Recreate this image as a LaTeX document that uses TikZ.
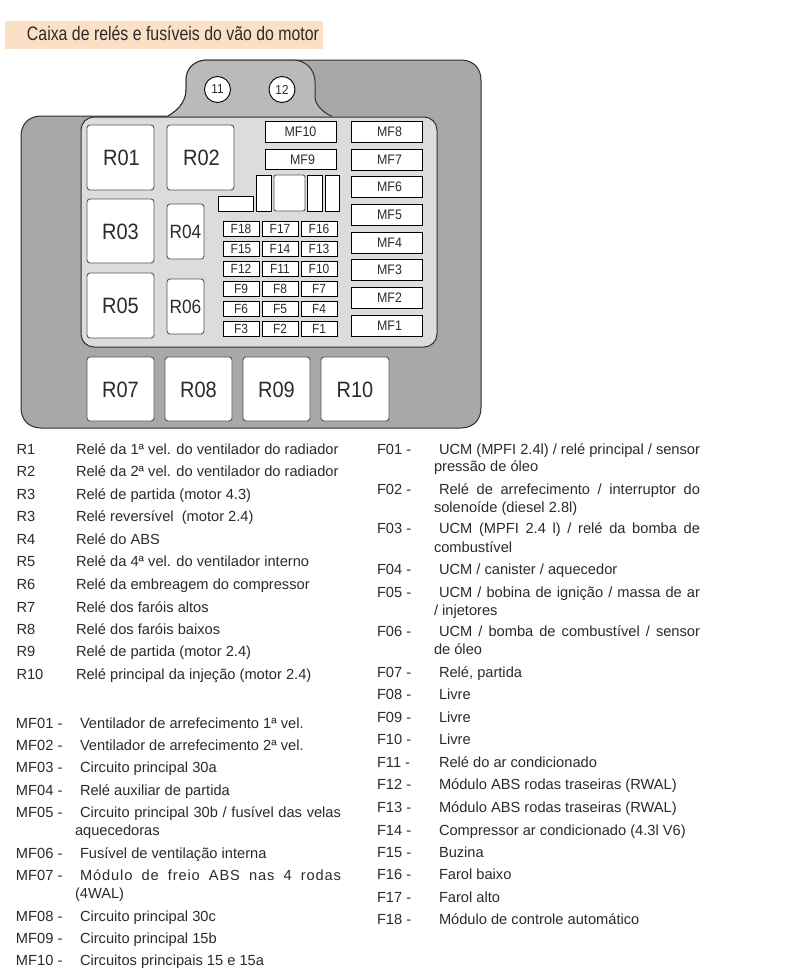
\documentclass[tikz,border=0pt]{standalone}
\usepackage{fontspec}
\usepackage{graphicx}
\setmainfont{Liberation Sans}
\newfontfamily\boxfont[FakeStretch=0.9]{Liberation Sans}
\definecolor{inkc}{HTML}{2B2B2B}
\definecolor{titlebg}{HTML}{FBE0C6}
\definecolor{bodyc}{HTML}{A8A8A8}
\definecolor{tabc}{HTML}{BABABA}
\definecolor{panelc}{HTML}{DCDCDC}
\definecolor{edgec}{HTML}{555555}
\definecolor{shellc}{HTML}{303030}
\tikzset{
  partbase/.style={inner sep=0pt,outer sep=0pt,text=inkc,align=center},
  relaybig/.style={partbase,draw=edgec,fill=white,line width=.9pt,rounded corners=3pt,font=\boxfont\fontsize{22.2}{22}\selectfont,text height=16pt,text depth=0pt},
  relaysmall/.style={partbase,draw=edgec,fill=white,line width=.9pt,rounded corners=3pt,font=\boxfont\fontsize{19.2}{20}\selectfont,text height=13.8pt,text depth=0pt},
  maxifuse/.style={partbase,draw=black,fill=white,line width=.9pt,font=\boxfont\fontsize{13.8}{14}\selectfont,text height=9.9pt,text depth=0pt},
  minifuse/.style={partbase,draw=black,fill=white,line width=.9pt,font=\boxfont\fontsize{13.3}{14}\selectfont,text height=9.5pt,text depth=0pt},
  blankpart/.style={partbase,draw=black,fill=white,line width=.9pt},
  blankround/.style={partbase,draw=edgec,fill=white,line width=.9pt,rounded corners=2pt},
  pincircle/.style={circle,draw=black,fill=white,line width=.9pt,inner sep=0pt,minimum size=26pt,text=inkc,font=\boxfont\fontsize{13}{13}\selectfont},
  rowtext/.style={anchor=base west,inner sep=0pt,outer sep=0pt,text=inkc,font=\fontsize{14.65}{16}\selectfont},
}
\newcommand{\partbox}[7]{%
  \pgfmathsetmacro{\cxv}{(#3+#5)/2}\pgfmathsetmacro{\cyv}{(#4+#6)/2}%
  \pgfmathsetmacro{\wv}{#5-#3}\pgfmathsetmacro{\hv}{#6-#4}%
  \node[#1,name=#2,minimum width=\wv pt,minimum height=\hv pt] at (\cxv,\cyv) {#7};}
\newcommand{\rowt}[4]{\node[rowtext,name=#1] at (#2,#3) {#4};}
\newcommand{\rowj}[5]{\node[rowtext,name=#1] at (#2,#3) {\makebox[#4pt][s]{#5}};}
\begin{document}
\begin{tikzpicture}[x=1pt,y=-1pt]
\useasboundingbox (0,0) rectangle (797,980);
\fill[white] (0,0) rectangle (797,980);
% title
\node[name=titlebar,fill=titlebg,inner sep=0pt,minimum width=318pt,minimum height=28pt] at (164,35) {};
\node[rowtext,name=titletext,font=\fontsize{19.5}{20}\selectfont] at (27,40) {\resizebox{292pt}{\height}{Caixa de relés e fusíveis do vão do motor}};
% body silhouette
\draw[fill=bodyc,draw=shellc,line width=1pt]
  (41,116) -- (168,116) .. controls (182,108) and (186,98) .. (186,90)
  -- (186,80) .. controls (186,68) and (195,60) .. (207,60) -- (461,60)
  .. controls (473,60) and (481,68) .. (481,80) -- (481,408)
  .. controls (481,420) and (473,428) .. (461,428) -- (41,428)
  .. controls (29,428) and (21,420) .. (21,408) -- (21,136)
  .. controls (21,124) and (29,116) .. (41,116) -- cycle;
% tab
\fill[tabc] (168,116.5) .. controls (182,108) and (186,98) .. (186,90)
  -- (186,80) .. controls (186,68) and (195,60) .. (207,60) -- (293,60)
  .. controls (306,60) and (315,70) .. (315,82) -- (315,98)
  .. controls (316,106) and (324,113) .. (332,116.5) -- cycle;
\draw[shellc,line width=1pt] (168,116) .. controls (182,108) and (186,98) .. (186,90)
  -- (186,80) .. controls (186,68) and (195,60) .. (207,60) -- (293,60)
  .. controls (306,60) and (315,70) .. (315,82) -- (315,98)
  .. controls (316,106) and (324,113) .. (332,116.5);
% panel
\draw[fill=panelc,draw=shellc,line width=1pt,rounded corners=13pt] (81,117) rectangle (437,347);
% pin circles
\node[pincircle,name=pin11] at (217.5,89.5) {11};
\node[pincircle,name=pin12] at (282,89.5) {12};
% relays
\partbox{relaybig}{r01}{87}{125}{154}{190}{\kern2pt R01}
\partbox{relaybig}{r02}{167}{125}{234}{190}{\kern2pt R02}
\partbox{relaybig}{r03}{87}{199}{154}{263}{R03}
\partbox{relaysmall}{r04}{167}{204}{204}{259}{R04}
\partbox{relaybig}{r05}{87}{273}{154}{338}{R05}
\partbox{relaysmall}{r06}{167}{279}{204}{334}{R06}
\partbox{relaybig}{r07}{87}{357}{154}{421}{R07}
\partbox{relaybig}{r08}{165}{357}{232}{421}{R08}
\partbox{relaybig}{r09}{243}{357}{310}{421}{R09}
\partbox{relaybig}{r10}{321}{357}{389}{421}{R10}
% maxi fuses
\partbox{maxifuse}{mf10}{265}{121}{336}{142.5}{MF10}
\partbox{maxifuse}{mf9}{265}{149}{336}{169.5}{\kern4pt MF9}
\partbox{maxifuse}{mf8}{351}{121}{422}{142.5}{\kern6pt MF8}
\partbox{maxifuse}{mf7}{351}{149}{422}{170}{\kern6pt MF7}
\partbox{maxifuse}{mf6}{351}{176}{422}{197}{\kern6pt MF6}
\partbox{maxifuse}{mf5}{351}{204}{422}{225}{\kern6pt MF5}
\partbox{maxifuse}{mf4}{351}{232}{422}{253}{\kern6pt MF4}
\partbox{maxifuse}{mf3}{351}{259}{422}{280}{\kern6pt MF3}
\partbox{maxifuse}{mf2}{351}{287}{422}{308}{\kern6pt MF2}
\partbox{maxifuse}{mf1}{351}{315}{422}{336}{\kern6pt MF1}
% small blank parts
\partbox{blankpart}{bl1}{218}{196}{253}{211}{}
\partbox{blankpart}{bl2}{256}{175}{271}{211}{}
\partbox{blankround}{bl3}{274}{175}{305}{211}{}
\partbox{blankpart}{bl4}{307}{175}{322}{211}{}
\partbox{blankpart}{bl5}{325}{175}{339}{211}{}
% mini fuses
\partbox{minifuse}{f18}{223}{221}{259}{236}{F18}
\partbox{minifuse}{f17}{262}{221}{298}{236}{F17}
\partbox{minifuse}{f16}{301}{221}{337}{236}{F16}
\partbox{minifuse}{f15}{223}{241}{259}{256}{F15}
\partbox{minifuse}{f14}{262}{241}{298}{256}{F14}
\partbox{minifuse}{f13}{301}{241}{337}{256}{F13}
\partbox{minifuse}{f12}{223}{261}{259}{276}{F12}
\partbox{minifuse}{f11}{262}{261}{298}{276}{F11}
\partbox{minifuse}{f10}{301}{261}{337}{276}{F10}
\partbox{minifuse}{f9}{223}{281}{259}{296}{F9}
\partbox{minifuse}{f8}{262}{281}{298}{296}{F8}
\partbox{minifuse}{f7}{301}{281}{337}{296}{F7}
\partbox{minifuse}{f6}{223}{301}{259}{316}{F6}
\partbox{minifuse}{f5}{262}{301}{298}{316}{F5}
\partbox{minifuse}{f4}{301}{301}{337}{316}{F4}
\partbox{minifuse}{f3}{223}{321}{259}{336}{F3}
\partbox{minifuse}{f2}{262}{321}{298}{336}{F2}
\partbox{minifuse}{f1}{301}{321}{337}{336}{F1}
% relay list
\rowt{la1}{16.5}{454}{R1}\rowt{ld1}{76}{454}{Relé da 1ª vel. do ventilador do radiador}
\rowt{la2}{16.5}{476}{R2}\rowt{ld2}{76}{476}{Relé da 2ª vel. do ventilador do radiador}
\rowt{la3}{16.5}{499}{R3}\rowt{ld3}{76}{499}{Relé de partida (motor 4.3)}
\rowt{la4}{16.5}{521}{R3}\rowt{ld4}{76}{521}{Relé reversível~ (motor 2.4)}
\rowt{la5}{16.5}{544}{R4}\rowt{ld5}{76}{544}{Relé do ABS}
\rowt{la6}{16.5}{566}{R5}\rowt{ld6}{76}{566}{Relé da 4ª vel. do ventilador interno}
\rowt{la7}{16.5}{589}{R6}\rowt{ld7}{76}{589}{Relé da embreagem do compressor}
\rowt{la8}{16.5}{612}{R7}\rowt{ld8}{76}{612}{Relé dos faróis altos}
\rowt{la9}{16.5}{634}{R8}\rowt{ld9}{76}{634}{Relé dos faróis baixos}
\rowt{la10}{16.5}{656}{R9}\rowt{ld10}{76}{656}{Relé de partida (motor 2.4)}
\rowt{la11}{16.5}{679}{R10}\rowt{ld11}{76}{679}{Relé principal da injeção (motor 2.4)}
% maxi fuse list
\rowt{ma1}{16}{728}{MF01 -}\rowt{md1}{80}{728}{Ventilador de arrefecimento 1ª vel.}
\rowt{ma2}{16}{750}{MF02 -}\rowt{md2}{80}{750}{Ventilador de arrefecimento 2ª vel.}
\rowt{ma3}{16}{772}{MF03 -}\rowt{md3}{80}{772}{Circuito principal 30a}
\rowt{ma4}{16}{795}{MF04 -}\rowt{md4}{80}{795}{Relé auxiliar de partida}
\rowt{ma5}{16}{817}{MF05 -}\rowj{md5}{80}{817}{261}{Circuito principal 30b / fusível das velas}
\rowt{mc5}{75}{835}{aquecedoras}
\rowt{ma6}{16}{858}{MF06 -}\rowt{md6}{80}{858}{Fusível de ventilação interna}
\rowt{ma7}{16}{880}{MF07 -}\rowj{md7}{80}{880}{261}{\addfontfeature{LetterSpace=6}Módulo de freio ABS nas 4 rodas}
\rowt{mc7}{75}{898}{(4WAL)}
\rowt{ma8}{16}{921}{MF08 -}\rowt{md8}{80}{921}{Circuito principal 30c}
\rowt{ma9}{16}{943}{MF09 -}\rowt{md9}{80}{943}{Circuito principal 15b}
\rowt{ma10}{16}{965}{MF10 -}\rowt{md10}{80}{965}{Circuitos principais 15 e 15a}
% fuse list
\rowt{fa1}{377}{454}{F01 -}\rowj{fd1}{439}{454}{261}{UCM (MPFI 2.4l) / relé principal / sensor}
\rowt{fc1}{434}{471}{pressão de óleo}
\rowt{fa2}{377}{494}{F02 -}\rowj{fd2}{439}{494}{261}{Relé de arrefecimento / interruptor do}
\rowt{fc2}{434}{512}{solenoíde (diesel 2.8l)}
\rowt{fa3}{377}{533}{F03 -}\rowj{fd3}{439}{533}{261}{UCM (MPFI 2.4 l) / relé da bomba de}
\rowt{fc3}{434}{552}{combustível}
\rowt{fa4}{377}{574}{F04 -}\rowt{fd4}{439}{574}{UCM / canister / aquecedor}
\rowt{fa5}{377}{597}{F05 -}\rowj{fd5}{439}{597}{261}{UCM / bobina de ignição / massa de ar}
\rowt{fc5}{434}{615}{/ injetores}
\rowt{fa6}{377}{636}{F06 -}\rowj{fd6}{439}{636}{261}{UCM / bomba de combustível / sensor}
\rowt{fc6}{434}{654}{de óleo}
\rowt{fa7}{377}{677}{F07 -}\rowt{fd7}{439}{677}{Relé, partida}
\rowt{fa8}{377}{699}{F08 -}\rowt{fd8}{439}{699}{Livre}
\rowt{fa9}{377}{722}{F09 -}\rowt{fd9}{439}{722}{Livre}
\rowt{fa10}{377}{744}{F10 -}\rowt{fd10}{439}{744}{Livre}
\rowt{fa11}{377}{767}{F11 -}\rowt{fd11}{439}{767}{Relé do ar condicionado}
\rowt{fa12}{377}{789}{F12 -}\rowt{fd12}{439}{789}{Módulo ABS rodas traseiras (RWAL)}
\rowt{fa13}{377}{812}{F13 -}\rowt{fd13}{439}{812}{Módulo ABS rodas traseiras (RWAL)}
\rowt{fa14}{377}{835}{F14 -}\rowt{fd14}{439}{835}{Compressor ar condicionado (4.3l V6)}
\rowt{fa15}{377}{857}{F15 -}\rowt{fd15}{439}{857}{Buzina}
\rowt{fa16}{377}{879}{F16 -}\rowt{fd16}{439}{879}{Farol baixo}
\rowt{fa17}{377}{902}{F17 -}\rowt{fd17}{439}{902}{Farol alto}
\rowt{fa18}{377}{924}{F18 -}\rowt{fd18}{439}{924}{Módulo de controle automático}
\end{tikzpicture}
\end{document}
